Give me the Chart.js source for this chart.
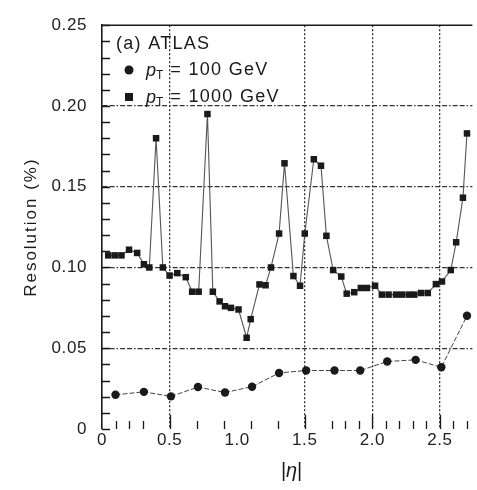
<!DOCTYPE html>
<html><head><meta charset="utf-8">
<script src="https://cdn.jsdelivr.net/npm/chart.js@4.4.0/dist/chart.umd.min.js"></script>
<style>html,body{margin:0;padding:0;background:#fff;overflow:hidden}canvas{display:block}</style>
</head><body>
<canvas id="c" width="477" height="490"></canvas>
<script>
// ---- data ----
const etaLow = [0.10,0.31,0.51,0.71,0.91,1.11,1.31,1.51,1.72,1.91,2.11,2.32,2.51,2.70];
const resLow = [0.0212,0.0230,0.0202,0.0260,0.0226,0.0262,0.0347,0.0362,0.0362,0.0362,0.0418,0.0428,0.0382,0.0701];

const etaHigh = [0.046,0.095,0.144,0.20,0.26,0.31,0.35,0.40,0.45,0.50,0.557,0.62,0.667,0.715,0.78,0.82,0.87,0.91,0.954,1.01,1.07,1.10,1.165,1.21,1.25,1.31,1.35,1.416,1.465,1.50,1.567,1.62,1.66,1.71,1.77,1.81,1.866,1.915,1.96,2.02,2.07,2.12,2.175,2.22,2.27,2.31,2.36,2.41,2.47,2.515,2.58,2.62,2.67,2.70];
const resHigh = [0.1075,0.1075,0.1075,0.111,0.109,0.102,0.100,0.180,0.100,0.095,0.0965,0.094,0.085,0.085,0.195,0.085,0.079,0.076,0.075,0.074,0.0565,0.068,0.0895,0.089,0.100,0.121,0.1645,0.0947,0.0887,0.121,0.167,0.163,0.1196,0.0984,0.0944,0.0838,0.0847,0.0873,0.0873,0.0887,0.0832,0.0832,0.0832,0.0832,0.0832,0.0832,0.0842,0.0842,0.0897,0.0913,0.0984,0.1156,0.1432,0.183];

const seriesNames = ['p_T = 100 GeV','p_T = 1000 GeV'];
const panelLabel = '(a) ATLAS';
const yTitle = 'Resolution (%)';
const xGridHidden = [0, 1.0];          // no grid line drawn at these x values
const xMajorTicks = [0.5,1.5,2.0,2.5];
const xMinorTicks = [0.1,0.2,0.3,0.7,0.9,1.1,1.3,1.7,1.8,1.9,2.1,2.2,2.3,2.4,2.6,2.7];
const yMinorStep = 0.01;

const FONT = '"Liberation Sans", Arial, Helvetica, sans-serif';
const INK = '#1a1a1a';

const decor = {
  id: 'decor',
  beforeDraw(chart) { chart.ctx.letterSpacing = '0.6px'; },
  afterDraw(chart) {
    const {ctx, chartArea: a, scales: {x, y}} = chart;
    ctx.save();
    ctx.letterSpacing = '0px';
    ctx.strokeStyle = INK;
    // top frame line
    ctx.lineWidth = 1.6;
    ctx.beginPath();
    ctx.moveTo(a.left, a.top); ctx.lineTo(a.right, a.top);
    ctx.stroke();
    // inward y ticks
    ctx.lineWidth = 1.3;
    ctx.beginPath();
    for (let i = 0; i <= Math.round(y.max / yMinorStep); i++) {
      const py = Math.round(y.getPixelForValue(i * yMinorStep)) + 0.5;
      ctx.moveTo(a.left, py); ctx.lineTo(a.left + 8, py);
    }
    // inward x ticks
    xMinorTicks.forEach(v => {
      const px = Math.round(x.getPixelForValue(v)) + 0.5;
      ctx.moveTo(px, a.bottom); ctx.lineTo(px, a.bottom - 8);
    });
    xMajorTicks.forEach(v => {
      const px = Math.round(x.getPixelForValue(v)) + 0.5;
      ctx.moveTo(px, a.bottom); ctx.lineTo(px, a.bottom - 14);
    });
    ctx.stroke();

    // legend / panel label
    ctx.fillStyle = INK;
    ctx.textBaseline = 'middle';
    ctx.textAlign = 'left';
    ctx.letterSpacing = '1.3px';
    ctx.font = '18px ' + FONT;
    ctx.fillText(panelLabel, 116, 44);

    const rows = [{y: 70, mark: 'circle', txt: seriesNames[0]}, {y: 97, mark: 'rect', txt: seriesNames[1]}];
    rows.forEach(r => {
      ctx.beginPath();
      if (r.mark === 'circle') { ctx.arc(129, r.y, 4.5, 0, Math.PI * 2); }
      else { ctx.rect(125, r.y - 4, 8, 8); }
      ctx.fill();
      const rest = r.txt.replace('p_T', '');
      ctx.font = 'italic 18px ' + FONT;
      ctx.letterSpacing = '0px';
      ctx.fillText('p', 146, r.y + 1);
      ctx.font = '12px ' + FONT;
      ctx.fillText('T', 156, r.y + 6);
      ctx.font = '18px ' + FONT;
      ctx.letterSpacing = '1.3px';
      ctx.fillText(rest, 164, r.y);
    });

    // y title
    ctx.save();
    ctx.translate(31, (a.top + a.bottom) / 2);
    ctx.rotate(-Math.PI / 2);
    ctx.textAlign = 'center';
    ctx.font = '17px ' + FONT;
    ctx.letterSpacing = '2px';
    ctx.fillText(yTitle, 0, 0);
    ctx.restore();

    // x title |η|
    ctx.letterSpacing = '0px';
    ctx.textAlign = 'left';
    ctx.font = '20px ' + FONT;
    const cx = 291, cy = 471;
    ctx.fillText('|', cx - 10, cy);
    ctx.font = 'italic 20px ' + FONT;
    ctx.fillText('η', cx - 5, cy);
    ctx.font = '20px ' + FONT;
    ctx.fillText('|', cx + 6, cy);
    ctx.restore();
  }
};

const toPts = (xs, ys) => xs.map((v, i) => ({x: v, y: ys[i]}));

new Chart(document.getElementById('c'), {
  type: 'scatter',
  data: {
    datasets: [
      {
        label: seriesNames[0],
        data: toPts(etaLow, resLow),
        showLine: true,
        borderColor: '#444',
        borderWidth: 1,
        borderDash: [5, 2],
        pointStyle: 'circle',
        pointRadius: 4.2,
        pointBackgroundColor: INK,
        pointBorderColor: INK,
        pointBorderWidth: 0,
        clip: false
      },
      {
        label: seriesNames[1],
        data: toPts(etaHigh, resHigh),
        showLine: true,
        borderColor: '#555',
        borderWidth: 1.1,
        pointStyle: 'rect',
        pointRadius: 4.6,
        pointBackgroundColor: INK,
        pointBorderColor: INK,
        pointBorderWidth: 0,
        clip: false
      }
    ]
  },
  options: {
    responsive: false,
    devicePixelRatio: 1,
    animation: false,
    events: [],
    layout: {padding: {top: 17, right: 0, bottom: 0, left: 0}},
    plugins: {legend: {display: false}, tooltip: {enabled: false}},
    scales: {
      x: {
        type: 'linear',
        min: 0, max: 2.74,
        afterFit: s => { s.height = 61; },
        ticks: {
          stepSize: 0.5, includeBounds: false, padding: 1, color: '#222',
          font: {family: FONT, size: 17},
          maxRotation: 0, autoSkip: false,
          callback: v => (v === 0 ? '0' : v.toFixed(1))
        },
        grid: {
          drawTicks: false,
          lineWidth: 1.3,
          color: c => (c.tick && xGridHidden.some(h => Math.abs(c.tick.value - h) < 1e-9)) ? 'rgba(0,0,0,0)' : '#333'
        },
        border: {display: false, dash: [2, 2]}
      },
      y: {
        type: 'linear',
        min: 0, max: 0.25,
        afterFit: s => { s.width = 102; },
        ticks: {
          stepSize: 0.05, padding: 15, color: '#222',
          font: {family: FONT, size: 17},
          callback: v => (v === 0 ? '0' : v.toFixed(2))
        },
        grid: {
          drawTicks: false,
          lineWidth: 1.2,
          color: c => (c.tick && (c.tick.value < 1e-9 || c.tick.value > 0.25 - 1e-9)) ? 'rgba(0,0,0,0)' : '#333'
        },
        border: {display: true, color: INK, width: 1.6, dash: [5, 2, 5, 2, 1.5, 2]}
      }
    }
  },
  plugins: [decor]
});
</script>
</body></html>
